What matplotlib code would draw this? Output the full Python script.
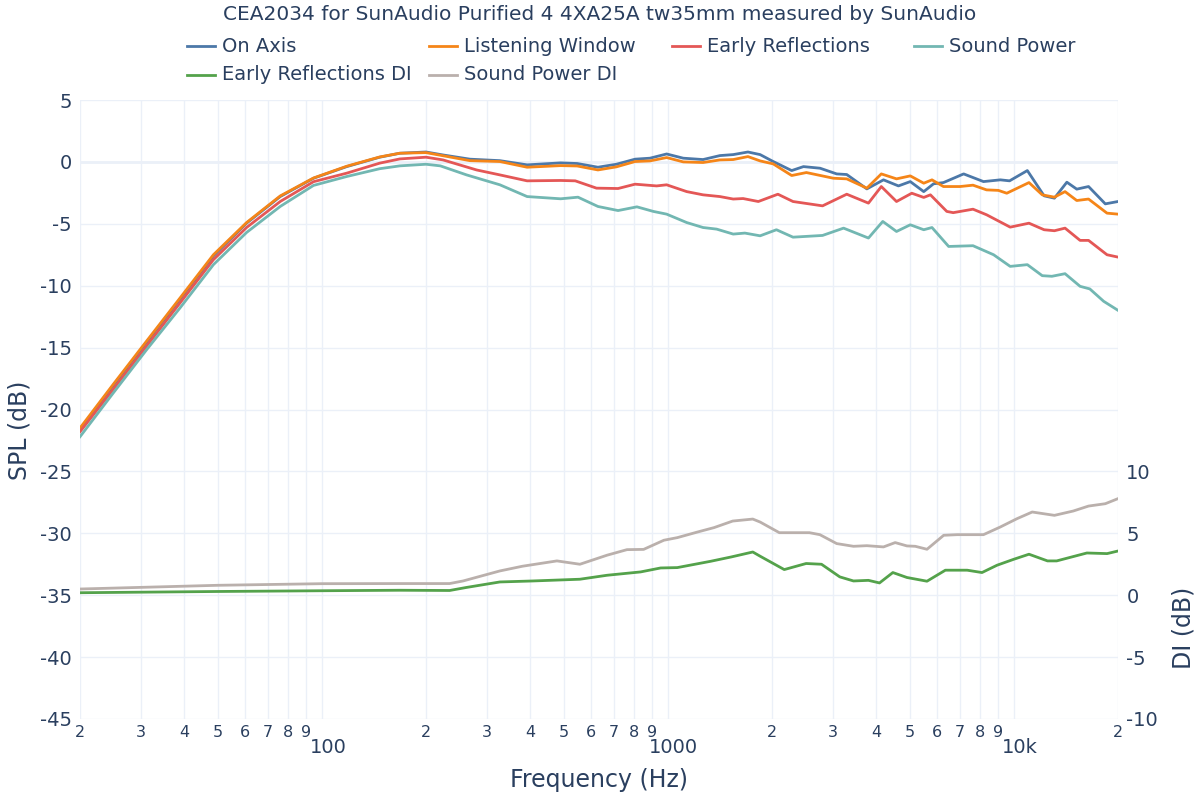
import numpy as np
import matplotlib
matplotlib.use("Agg")
import matplotlib.pyplot as plt
from matplotlib.lines import Line2D
from matplotlib.transforms import ScaledTranslation

# ---------------- data ----------------
title = "CEA2034 for SunAudio Purified 4 4XA25A tw35mm measured by SunAudio"

freq_on = [20, 24.9, 31.1, 38.9, 48.6, 60.6, 75.8, 94.6, 118, 147, 168, 200,
           224, 268, 327, 392, 490, 547, 628, 710, 804, 888, 992, 1108, 1264, 1414, 1545, 1704, 1848,
           2016, 2280, 2466, 2754, 3076, 3289, 3760, 4200, 4640, 5020, 5490, 5860, 6260, 7160, 8170,
           9140, 9720, 10940, 12230, 13100, 14230, 15200, 16440, 18380, 20000]
on_axis = [-21.6, -18.1, -14.6, -11.1, -7.6, -4.95, -2.8, -1.32, -0.38, 0.38, 0.7, 0.8,
           0.56, 0.22, 0.1, -0.24, -0.08, -0.13, -0.43, -0.19, 0.22, 0.3, 0.64, 0.3, 0.19, 0.51, 0.59, 0.8, 0.59,
           0.03, -0.7, -0.38, -0.51, -0.97, -1.02, -2.18, -1.45, -1.94, -1.59, -2.4, -1.77, -1.67, -0.97, -1.59,
           -1.45, -1.53, -0.7, -2.74, -2.93, -1.64, -2.2, -1.99, -3.39, -3.2]

freq_lw = [20, 24.9, 31.1, 38.9, 48.6, 60.6, 75.8, 94.6, 118, 147, 168, 200,
           268, 327, 392, 490, 547, 628, 710, 804, 888, 992, 1108, 1264, 1414, 1545, 1704, 1848,
           2016, 2280, 2514, 3010, 3289, 3760, 4140, 4580, 5020, 5490, 5800, 6260, 6990, 7620, 8340,
           9020, 9540, 11060, 12080, 13100, 14060, 15200, 16440, 18590, 20000]
listening_window = [-21.5, -18.0, -14.5, -11.0, -7.5, -4.9, -2.75, -1.3, -0.35, 0.4, 0.7, 0.75,
                    0.1, 0.03, -0.43, -0.3, -0.33, -0.65, -0.4, 0.03, 0.08, 0.35, 0.0, -0.05, 0.16, 0.19, 0.43, 0.08,
                    -0.16, -1.1, -0.86, -1.32, -1.37, -2.12, -0.97, -1.37, -1.13, -1.72, -1.45, -1.99, -1.99, -1.88,
                    -2.26, -2.3, -2.53, -1.67, -2.66, -2.85, -2.4, -3.12, -3.0, -4.14, -4.22]

freq_er = [20, 24.9, 31.1, 38.9, 48.6, 60.6, 75.8, 94.6, 118, 147, 168, 200,
           224, 280, 327, 392, 490, 540, 622, 718, 804, 928, 992, 1134, 1264, 1414, 1545, 1650, 1826,
           2080, 2300, 2800, 3289, 3800, 4140, 4580, 5070, 5490, 5740, 6400, 6680, 7620, 8340, 9760,
           11060, 12230, 13100, 14060, 15540, 16440, 18590, 20000]
early_reflections = [-21.8, -18.4, -14.9, -11.4, -7.9, -5.3, -3.2, -1.6, -0.91, -0.1, 0.24, 0.38,
                     0.16, -0.65, -1.05, -1.53, -1.5, -1.53, -2.12, -2.15, -1.8, -1.94, -1.85, -2.4, -2.66, -2.8,
                     -3.0, -2.96, -3.2,
                     -2.61, -3.2, -3.55, -2.61, -3.33, -1.99, -3.2, -2.53, -2.87, -2.66, -4.0, -4.1, -3.82, -4.27,
                     -5.27, -4.95, -5.48, -5.56, -5.35, -6.34, -6.34, -7.5, -7.69]

freq_sp = [20, 24.9, 31.1, 38.9, 48.6, 60.6, 75.8, 94.6, 118, 147, 168, 200,
           220, 262, 327, 392, 490, 550, 628, 718, 814, 908, 992, 1134, 1264, 1384, 1545, 1670, 1848,
           2060, 2300, 2800, 3220, 3800, 4180, 4580, 5020, 5490, 5800, 6480, 7620, 8740, 9760, 10940,
           12080, 12880, 14060, 15540, 16580, 18180, 20000]
sound_power = [-22.2, -18.7, -15.2, -11.8, -8.3, -5.7, -3.6, -1.9, -1.18, -0.55, -0.32, -0.19,
               -0.32, -1.05, -1.85, -2.8, -2.98, -2.85, -3.6, -3.93, -3.63, -4.0, -4.22, -4.9, -5.3, -5.43,
               -5.83, -5.75, -5.97,
               -5.48, -6.08, -5.94, -5.35, -6.15, -4.81, -5.62, -5.08, -5.48, -5.3, -6.83, -6.77, -7.5, -8.44,
               -8.3, -9.19, -9.24, -9.03, -10.05, -10.26, -11.26, -11.99]

freq_erdi = [20, 50, 100, 168, 234, 261, 327, 407, 557, 667,
             834, 953, 1065, 1330, 1525, 1760, 1848, 2170, 2510, 2780,
             3140, 3440, 3800, 4090, 4470, 4910, 5610, 6340, 7330, 8090,
             8940, 9990, 11060, 12510, 13300, 16260, 18600, 20000]
er_di = [0.2, 0.3, 0.36, 0.4, 0.38, 0.62, 1.07, 1.15, 1.29, 1.61,
         1.88, 2.2, 2.23, 2.74, 3.09, 3.49, 3.15, 2.07, 2.56, 2.5,
         1.48, 1.15, 1.2, 0.99, 1.83, 1.43, 1.13, 2.02, 2.02, 1.83,
         2.42, 2.9, 3.31, 2.77, 2.77, 3.41, 3.36, 3.57]

freq_spdi = [20, 50, 100, 168, 234, 256, 327, 380, 478, 557,
             667, 762, 851, 974, 1065, 1217, 1360, 1540, 1760, 1848,
             2100, 2565, 2750, 3076, 3440, 3760, 4200, 4540, 4910, 5190,
             5610, 6270, 6860, 8170, 9140, 10210, 11300, 13100, 14850, 16440,
             18380, 20000]
sp_di = [0.5, 0.8, 0.93, 0.94, 0.94, 1.15, 1.96, 2.34, 2.77, 2.5,
         3.23, 3.68, 3.7, 4.44, 4.65, 5.1, 5.46, 5.99, 6.15, 5.91,
         5.05, 5.05, 4.89, 4.17, 3.95, 4.0, 3.9, 4.25, 3.98, 3.95,
         3.71, 4.84, 4.89, 4.89, 5.51, 6.18, 6.72, 6.45, 6.8, 7.2,
         7.39, 7.8]

series_names = ["On Axis", "Listening Window", "Early Reflections", "Sound Power",
                "Early Reflections DI", "Sound Power DI"]
colors = ["#4c78a8", "#f58518", "#e45756", "#72b7b2", "#54a24b", "#bab0ac"]

spl_ticks = [5, 0, -5, -10, -15, -20, -25, -30, -35, -40, -45]
di_ticks = [10, 5, 0, -5, -10]
major_x = [100, 1000, 10000]
major_x_labels = ["100", "1000", "10k"]
minor_x = [20, 30, 40, 50, 60, 70, 80, 90, 200, 300, 400, 500, 600, 700, 800, 900,
           2000, 3000, 4000, 5000, 6000, 7000, 8000, 9000, 20000]
minor_x_labels = ["2", "3", "4", "5", "6", "7", "8", "9"] * 3 + ["2"]

# ---------------- figure ----------------
plt.rcParams['font.family'] = ['DejaVu Sans']
plt.rcParams['axes.unicode_minus'] = False
txt = "#2a3f5f"
grid = "#ebf0f8"

fig = plt.figure(figsize=(12, 8), dpi=100)
W, H = 1200, 800
L, R, T, B = 80, 1118, 100, 719
ax = fig.add_axes([L / W, 1 - B / H, (R - L) / W, (B - T) / H])
ax.set_xscale("log")
ax.set_xlim(20, 20000)
ax.set_ylim(-45, 5)
for s in ax.spines.values():
    s.set_visible(False)

# grid
for f in major_x + minor_x:
    ax.axvline(f, color=grid, lw=1, zorder=0)
for v in spl_ticks:
    ax.axhline(v, color=grid, lw=1, zorder=0)
ax.axhline(0, color=grid, lw=2, zorder=0)

ax.set_yticks(spl_ticks)
ax.set_yticklabels([str(v) for v in spl_ticks])
ax.tick_params(axis="y", length=0, pad=6, labelsize=14, labelcolor=txt)

ax.set_xticks(major_x)
ax.set_xticklabels(major_x_labels)
ax.set_xticks(minor_x, minor=True)
ax.set_xticklabels(minor_x_labels, minor=True)
ax.tick_params(axis="x", which="major", length=0, pad=14, labelsize=14, labelcolor=txt)
ax.tick_params(axis="x", which="minor", length=0, pad=4, labelsize=11.5, labelcolor=txt)
off = ScaledTranslation(6 / 100, 0, fig.dpi_scale_trans)
for lab in ax.xaxis.get_majorticklabels():
    lab.set_transform(lab.get_transform() + off)

ax.set_xlabel("Frequency (Hz)", fontsize=17, color=txt)
ax.xaxis.set_label_coords(0.5, -0.079)
ax.set_ylabel("SPL (dB)", fontsize=17, color=txt)
ax.yaxis.set_label_coords(-0.047, 0.467)

ax.plot(freq_on, on_axis, color=colors[0], lw=2)
ax.plot(freq_lw, listening_window, color=colors[1], lw=2)
ax.plot(freq_er, early_reflections, color=colors[2], lw=2)
ax.plot(freq_sp, sound_power, color=colors[3], lw=2)

ax2 = ax.twinx()
ax2.set_ylim(-10, 40)
for s in ax2.spines.values():
    s.set_visible(False)
ax2.set_yticks(di_ticks)
ax2.set_yticklabels([str(v) for v in di_ticks])
ax2.tick_params(axis="y", length=0, pad=6, labelsize=14, labelcolor=txt)
ax2.set_ylabel("DI (dB)", fontsize=17, color=txt)
ax2.yaxis.set_label_coords(1.052, 0.147)
ax2.plot(freq_erdi, er_di, color=colors[4], lw=2)
ax2.plot(freq_spdi, sp_di, color=colors[5], lw=2)

# title
fig.text(600 / W, 1 - 15 / H, title, ha="center", va="center", fontsize=14.5, color=txt)

# legend (manual, plotly-like layout)
leg_pos = [(187, 46), (429, 46), (672, 46), (914, 46), (187, 75), (429, 75)]
for (x0, y0), name, c in zip(leg_pos, series_names, colors):
    fig.add_artist(Line2D([x0 / W, (x0 + 28) / W], [1 - y0 / H, 1 - y0 / H],
                          color=c, lw=2, transform=fig.transFigure))
    fig.text((x0 + 35) / W, 1 - y0 / H, name, ha="left", va="center",
             fontsize=14, color=txt)

fig.savefig("out.png", dpi=100, facecolor="white")
